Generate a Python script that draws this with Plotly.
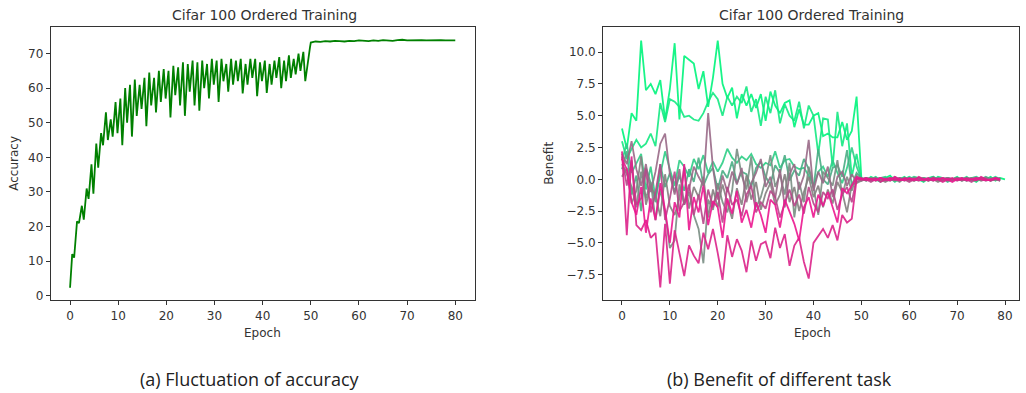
import plotly.graph_objects as go

# ---------------- data ----------------
acc_start = 2.3
acc_peak = [12, 21.5, 26, 31, 38, 44, 47, 53, 51, 56,
            57, 60, 61, 62.5, 61, 63, 64.5, 63, 65, 65.5,
            65, 66.5, 66, 67.5, 67, 68, 67.5, 68, 67, 68.5,
            68, 68.5, 67, 68.5, 68, 68.5, 67, 68.5, 68.5, 67.5,
            68, 67, 68, 69, 68, 69.5, 68.5, 70, 70.5, 69]
acc_dip = [11, 21, 22, 28, 29.5, 37, 43.5, 45, 46, 47,
           43.5, 50, 46, 52, 54, 49, 55, 53, 56, 57,
           51.5, 58, 55, 52, 59, 55, 53.5, 60, 57, 61,
           56, 62, 59, 61, 62, 58.5, 61, 63, 57.7, 62,
           58.6, 61, 63, 60, 62, 63, 64, 65, 62, 72]
acc_tail = [73.2, 73.5, 73.4, 73.6, 73.5, 73.7, 73.6, 73.5, 73.7, 73.6,
            73.8, 73.7, 73.6, 73.8, 73.7, 73.9, 73.8, 73.7, 73.9, 74.0,
            73.8, 73.9, 74.0, 73.9, 73.8, 73.9, 74.0, 73.9, 73.8, 73.9, 73.8]

benefit_series = {
    "task1": [4.0, 2.4, 5.2, 4.6, 10.9, 7.0, 7.5, 6.7, 7.8, 4.7,
              7.1, 10.7, 4.7, 9.7, 9.4, 9.1, 7.1, 8.5, 5.7, 8.0,
              10.9, 7.5, 6.4, 7.2, 4.8, 6.7, 5.8, 6.7, 5.6, 6.7,
              4.6, 6.9, 5.8, 5.2, 6.0, 6.2, 4.1, 5.5, 4.3, 4.3,
              5.0, 5.2, 3.4, 3.6, 3.3, 3.3, 4.5, 3.1, 3.8, 6.5,
              0.1, -0.1, 0.2, 0.0, -0.2, 0.1, 0.3, -0.1, 0.0, 0.2,
              -0.1, 0.1, 0.0, -0.2, 0.1, 0.2, 0.0, -0.1, 0.1, 0.0,
              0.2, -0.1, 0.1, 0.0, -0.2, 0.1, 0.0, 0.2, -0.1, 0.1, 0.0],
    "task2": [3.0, 1.6, 2.4, 3.1, 2.5, 2.8, 3.6, 2.6, 6.0, 4.5,
              6.3, 6.1, 5.7, 4.9, 5.0, 4.7, 4.6, 5.2, 6.1, 6.8,
              6.3, 5.0, 6.5, 5.8, 6.5, 6.0, 7.3, 5.3, 6.3, 4.2,
              6.5, 5.2, 7.0, 4.4, 5.9, 5.0, 4.6, 6.1, 4.0, 5.8,
              5.0, 2.0, 4.8, 4.7, 1.0, 5.3, 2.6, 4.4, 0.2, 2.0,
              -0.1, 0.1, 0.0, 0.2, -0.1, 0.0, 0.1, -0.2, 0.1, 0.0,
              0.2, 0.0, -0.1, 0.1, 0.0, -0.1, 0.2, 0.1, 0.0, -0.1,
              0.1, 0.0, 0.2, -0.1, 0.0, 0.1, -0.1, 0.0, 0.2, 0.0],
    "task3": [1.5, 2.8, 0.5, 1.2, 2.0, -0.8, 1.0, -1.5, 0.5, 2.2,
              0.8, -0.5, 1.5, 1.0, 0.2, 1.6, 0.8, 1.9, 0.5, 1.4,
              0.6, 1.3, 2.4, 1.7, 1.3, 1.8, 1.5, 2.0, 1.2, 0.9,
              1.3, 1.1, 2.2, 0.9, 1.5, 1.6, 1.0, 0.8, 0.9, 0.3,
              -0.5, 0.6, 1.0, 0.2, 1.5, 0.5, -0.3, 0.9, 2.5, 1.0,
              0.0, 0.1, -0.1, 0.0, 0.1, 0.2, -0.1, 0.0, 0.1, -0.1,
              0.0, 0.2, 0.1, 0.0, -0.1, 0.1, 0.0, 0.1, -0.2, 0.0,
              0.1, 0.0, -0.1, 0.1, 0.2, 0.0, 0.1, -0.1, 0.0, 0.1],
    "task4": [0.8, 2.2, -1.2, 0.3, -2.5, 0.9, -0.3, -1.8, 1.2, -0.6,
              0.5, -1.0, 0.3, -0.9, 0.8, -0.2, 1.7, -0.5, 0.4, 0.9,
              -0.8, 0.7, 0.1, 1.4, -0.3, 0.6, 0.4, -0.6, 0.9, 1.4,
              0.2, -0.4, 1.1, 0.5, 1.9, -0.1, 0.7, 0.3, 1.6, 0.8,
              -0.7, 2.4, 0.0, -0.4, 0.9, 1.1, 0.2, 2.3, -0.5, 0.5,
              0.1, 0.0, 0.1, -0.1, 0.0, 0.1, 0.0, 0.2, -0.1, 0.0,
              0.1, -0.1, 0.0, 0.1, 0.0, 0.2, -0.1, 0.0, 0.1, 0.0,
              -0.1, 0.1, 0.0, 0.1, -0.1, 0.0, 0.2, 0.0, 0.1, -0.1],
    "task5": [1.2, 0.4, -0.6, -2.2, 0.6, -1.5, -0.2, -3.2, -0.8, -2.6,
              -5.4, -4.8, -0.4, -2.0, -1.0, -2.8, -3.9, -6.6, -1.6, -2.4,
              -0.3, -1.8, -2.6, -0.9, 2.4, 0.3, -0.8, 1.8, -2.2, -1.4,
              0.0, 1.9, -0.6, 0.4, -1.2, 1.3, -3.0, -0.2, -1.8, 1.0,
              -0.6, -2.8, 0.6, 0.1, -0.5, 1.5, -1.3, 0.2, -0.9, 0.3,
              0.0, -0.1, 0.1, 0.0, -0.1, 0.0, 0.1, 0.0, -0.2, 0.1,
              0.0, -0.1, 0.0, 0.1, -0.1, 0.0, 0.0, 0.1, -0.1, 0.0,
              0.1, 0.0, -0.1, 0.0, 0.1, -0.1, 0.0, 0.1, 0.0, -0.1],
    "task6": [0.2, 0.9, -1.9, -0.9, 1.8, -2.0, -0.5, -1.3, -2.9, 0.4,
              -2.1, -2.8, -1.5, 0.9, -2.3, -0.6, -1.4, 0.2, -3.0, -0.8,
              -2.2, -0.4, -1.8, -3.1, -0.7, -2.0, 0.3, -1.6, -0.2, -2.4,
              -1.1, -0.3, -2.0, -1.2, 0.4, -1.8, -0.6, -2.5, -1.0, 0.2,
              -1.4, -0.5, -2.2, -0.8, -1.9, -0.2, -1.0, -2.6, -0.4, -0.3,
              -0.1, 0.0, 0.1, -0.1, 0.0, -0.2, 0.0, 0.1, -0.1, 0.0,
              0.0, -0.1, 0.1, 0.0, -0.1, 0.0, -0.2, 0.0, 0.1, -0.1,
              0.0, -0.1, 0.0, 0.1, 0.0, -0.1, 0.0, -0.1, 0.1, 0.0],
    "task7": [2.0, 1.2, 3.0, 0.8, -0.5, 1.2, -1.0, 0.6, 2.8, 3.6,
              0.4, -1.2, 0.8, -2.0, -0.8, 1.0, 0.2, -0.5, 5.2, 0.9,
              -1.6, 0.3, -1.0, 0.6, -0.4, 0.9, -1.8, -0.3, 0.5, 1.6,
              -0.6, 0.2, -1.5, 0.8, -2.2, 0.4, 1.2, -0.8, 0.3, 3.1,
              -0.9, 0.6, -0.3, 1.0, -1.4, 0.2, 0.6, -0.5, 0.4, -0.2,
              0.0, 0.1, -0.1, 0.0, 0.1, 0.0, -0.1, 0.1, 0.0, 0.0,
              -0.1, 0.1, 0.0, -0.1, 0.0, 0.1, 0.0, -0.1, 0.1, 0.0,
              0.0, 0.1, -0.1, 0.0, 0.1, 0.0, 0.1, -0.1, 0.0, 0.1],
    "task8": [1.8, -0.5, 1.5, -2.0, -1.5, 0.8, -2.6, -1.0, 1.2, -3.2,
              -1.5, 0.6, -2.5, -1.8, -0.4, -2.8, -1.2, -3.5, -0.8, -2.2,
              -1.0, -3.4, -0.6, -2.0, -1.6, -2.9, -1.2, -0.5, -2.6, -1.8,
              -2.3, -0.9, -1.4, -3.0, -1.9, -0.8, -2.1, -1.2, -2.7, -0.6,
              -1.9, -2.6, -1.0, -1.5, -0.8, -2.4, -1.2, -0.6, -1.8, 0.1,
              -0.1, 0.0, -0.2, 0.0, 0.1, -0.1, 0.0, -0.1, 0.1, 0.0,
              -0.2, 0.0, 0.1, -0.1, 0.0, -0.1, 0.1, 0.0, -0.1, 0.0,
              0.1, -0.1, 0.0, -0.2, 0.0, 0.1, 0.0, -0.1, 0.0, -0.1],
    "task9": [2.2, -4.4, 1.8, -3.6, -4.0, -3.2, -4.6, -4.2, -8.5, -3.5,
              -8.2, -4.0, -5.8, -7.6, -5.2, -6.0, -6.6, -4.2, -5.5, -3.9,
              -5.8, -7.9, -4.4, -6.1, -4.7, -5.6, -7.3, -4.8, -6.4, -5.1,
              -4.9, -6.2, -3.8, -5.4, -4.3, -6.8, -5.2, -4.6, -6.5, -7.8,
              -5.0, -4.4, -3.9, -4.6, -3.6, -4.8, -2.8, -3.4, -3.1, 0.0,
              0.1, -0.1, 0.0, 0.1, -0.2, 0.0, 0.1, 0.0, -0.1, 0.1,
              0.0, -0.1, 0.2, 0.0, -0.1, 0.1, 0.0, -0.2, 0.0, 0.1,
              -0.1, 0.0, 0.1, 0.0, -0.1, 0.2, 0.0, -0.1, 0.1, 0.0],
    "task10": [1.6, 0.8, -1.8, -2.8, -0.6, -4.2, -1.5, -3.2, -0.3, -2.4,
               -5.0, -1.8, -3.0, 1.2, -4.0, -1.4, -2.6, -0.5, -3.6, -1.7,
               -2.2, -4.6, -1.5, -2.7, -0.9, -3.4, -2.4, -3.8, -1.8, -2.8,
               -4.2, -1.6, -2.0, -3.8, -1.6, -2.6, -3.5, -4.8, -2.2, -1.4,
               -3.0, -1.2, -2.1, -1.0, -2.3, -3.4, -0.7, -1.1, -0.5, 0.2,
               0.0, 0.1, 0.0, -0.1, 0.1, 0.0, -0.1, 0.2, 0.0, -0.1,
               0.1, 0.0, -0.1, 0.0, 0.1, -0.1, 0.0, 0.1, 0.0, -0.2,
               0.0, 0.1, -0.1, 0.0, 0.1, 0.0, -0.1, 0.0, 0.1, 0.0],
}
benefit_colors = ["#00f57c", "#14e982", "#30cf88", "#4aae86", "#7a8e84",
                  "#868080", "#9a6a88", "#b8488a", "#dc238a", "#ec1890"]

title_text = "Cifar 100 Ordered Training"
caption_a = "(a) Fluctuation of accuracy"
caption_b = "(b) Benefit of different task"

# ---------------- build ----------------
acc_x = [0.0]
acc_y = [acc_start]
for e, (p, d) in enumerate(zip(acc_peak, acc_dip)):
    acc_x += [e + 0.45, e + 0.85]
    acc_y += [p, d]
for i, v in enumerate(acc_tail):
    acc_x.append(50 + i)
    acc_y.append(v)

fig = go.Figure()
fig.add_trace(go.Scatter(x=acc_x, y=acc_y, mode="lines",
                         line=dict(color="#008000", width=1.8),
                         xaxis="x", yaxis="y", showlegend=False))
for (name, vals), col in zip(benefit_series.items(), benefit_colors):
    fig.add_trace(go.Scatter(x=list(range(len(vals))), y=vals, mode="lines",
                             name=name, line=dict(color=col, width=1.8),
                             opacity=0.9, xaxis="x2", yaxis="y2", showlegend=False))

W, H = 1026, 393
font_tick = dict(family="DejaVu Sans", size=12, color="#333333")
axis_common = dict(showline=True, mirror=True, linecolor="#333333", linewidth=1,
                   ticks="outside", ticklen=4, tickcolor="#333333", tickwidth=1,
                   showgrid=False, zeroline=False, tickfont=font_tick)

fig.update_layout(
    width=W, height=H, margin=dict(l=0, r=0, t=0, b=0),
    paper_bgcolor="white", plot_bgcolor="white",
    xaxis=dict(domain=[0.0495, 0.4625], range=[-4, 84], tickvals=[0, 10, 20, 30, 40, 50, 60, 70, 80], anchor="y", **axis_common),
    yaxis=dict(domain=[0.2303, 0.930], range=[-1.3, 77.6], tickvals=[0, 10, 20, 30, 40, 50, 60, 70], anchor="x", **axis_common),
    xaxis2=dict(domain=[0.5878, 0.9933], range=[-3.95, 82.95], tickvals=[0, 10, 20, 30, 40, 50, 60, 70, 80], anchor="y2", **axis_common),
    yaxis2=dict(domain=[0.2303, 0.930], range=[-9.5, 11.95], tickvals=[-7.5, -5, -2.5, 0, 2.5, 5, 7.5, 10],
                ticktext=["\u22127.5", "\u22125.0", "\u22122.5", "0.0", "2.5", "5.0", "7.5", "10.0"], anchor="x2", **axis_common),
)

def ann(text, x, y, size, rot=0, family="DejaVu Sans", color="#333333"):
    fig.add_annotation(text=text, x=x / W, y=1 - y / H, xref="paper", yref="paper",
                       showarrow=False, textangle=rot, xanchor="center", yanchor="middle",
                       font=dict(family=family, size=size, color=color))

ann(title_text, 264, 15, 14)
ann(title_text, 811, 15, 14)
ann("Epoch", 262, 336, 12)
ann("Epoch", 812, 336, 12)
ann("Accuracy", 14, 165, 12, rot=-90)
ann("Benefit", 549, 165, 12, rot=-90)
ann(caption_a, 250, 382, 18, family="Open Sans", color="#222222")
ann(caption_b, 779, 382, 18, family="Open Sans", color="#222222")

fig.write_html("out.html", config={"displayModeBar": False},
               post_script="document.body.style.margin='0px';document.body.style.overflow='hidden';")
